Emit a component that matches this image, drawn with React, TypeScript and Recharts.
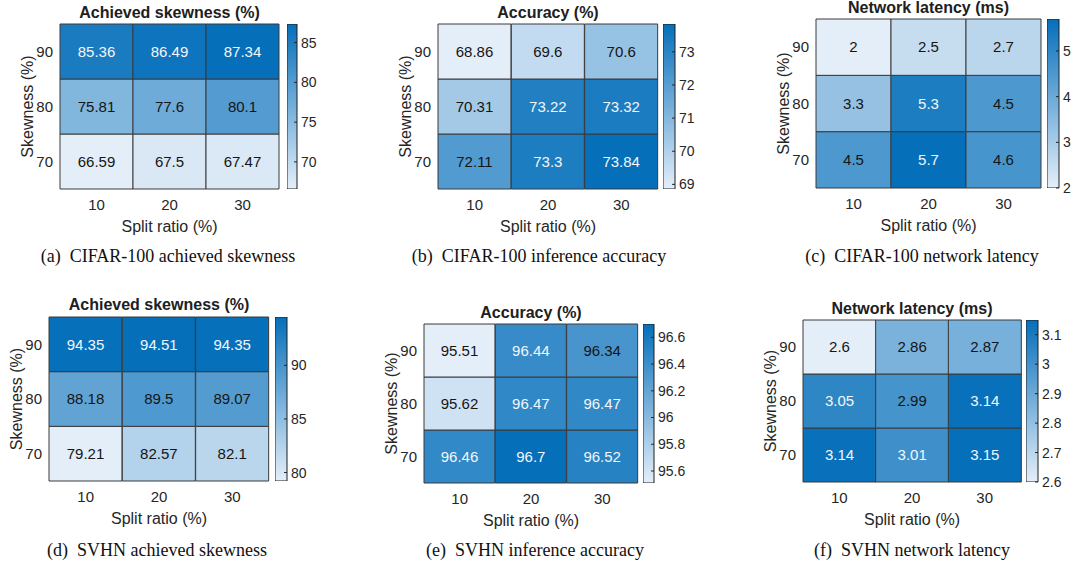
import React from 'react';
import { BarChart, Bar, XAxis, YAxis, Cell, LabelList } from 'recharts';

const splitRatios = ['10', '20', '30'];
const skewnessRows = [70, 80, 90];

// rows are skewness 70, 80, 90; columns are split ratio 10, 20, 30
const cifarSkewness = [
  [66.59, 67.5, 67.47],
  [75.81, 77.6, 80.1],
  [85.36, 86.49, 87.34],
];
const cifarAccuracy = [
  [72.11, 73.3, 73.84],
  [70.31, 73.22, 73.32],
  [68.86, 69.6, 70.6],
];
const cifarLatency = [
  [4.5, 5.7, 4.6],
  [3.3, 5.3, 4.5],
  [2, 2.5, 2.7],
];
const svhnSkewness = [
  [79.21, 82.57, 82.1],
  [88.18, 89.5, 89.07],
  [94.35, 94.51, 94.35],
];
const svhnAccuracy = [
  [96.46, 96.7, 96.52],
  [95.62, 96.47, 96.47],
  [95.51, 96.44, 96.34],
];
const svhnLatency = [
  [3.14, 3.01, 3.15],
  [3.05, 2.99, 3.14],
  [2.6, 2.86, 2.87],
];

const cifarSkewTicks = [70, 75, 80, 85];
const cifarAccTicks = [69, 70, 71, 72, 73];
const cifarLatTicks = [2, 3, 4, 5];
const svhnSkewTicks = [80, 85, 90];
const svhnAccTicks = [95.6, 95.8, 96, 96.2, 96.4, 96.6];
const svhnLatTicks = [2.6, 2.7, 2.8, 2.9, 3, 3.1];

const SANS = '"Liberation Sans", Arial, Helvetica, sans-serif';
const SERIF = '"Liberation Serif", "Times New Roman", serif';
const INK = '#262626';
const LIGHT = [228, 238, 249];
const DARK = [5, 111, 186];

const rgb = (c: number[]) => `rgb(${c.map(Math.round).join(',')})`;
const shade = (v: number, min: number, max: number) => {
  const t = max > min ? (v - min) / (max - min) : 0;
  return rgb(LIGHT.map((l, i) => l + (DARK[i] - l) * t));
};

type Panel = {
  title: string;
  caption: string;
  values: number[][];
  ticks: number[];
  grid: { x: number; y: number; w: number; h: number };
  bar: { x: number; w: number };
  titleY: number;
  capX: number;
  capY: number;
};

const panels: Panel[] = [
  {
    title: 'Achieved skewness (%)', caption: '(a)  CIFAR-100 achieved skewness',
    values: cifarSkewness, ticks: cifarSkewTicks,
    grid: { x: 60, y: 24, w: 219, h: 165 }, bar: { x: 287, w: 10 }, titleY: 13, capX: 168, capY: 256,
  },
  {
    title: 'Accuracy (%)', caption: '(b)  CIFAR-100 inference accuracy',
    values: cifarAccuracy, ticks: cifarAccTicks,
    grid: { x: 438, y: 24, w: 220, h: 165 }, bar: { x: 663, w: 12 }, titleY: 13, capX: 539, capY: 256,
  },
  {
    title: 'Network latency (ms)', caption: '(c)  CIFAR-100 network latency',
    values: cifarLatency, ticks: cifarLatTicks,
    grid: { x: 816, y: 19, w: 225, h: 169 }, bar: { x: 1047, w: 12 }, titleY: 8, capX: 922, capY: 256,
  },
  {
    title: 'Achieved skewness (%)', caption: '(d)  SVHN achieved skewness',
    values: svhnSkewness, ticks: svhnSkewTicks,
    grid: { x: 49, y: 317, w: 220, h: 164 }, bar: { x: 275, w: 12 }, titleY: 305, capX: 157, capY: 550,
  },
  {
    title: 'Accuracy (%)', caption: '(e)  SVHN inference accuracy',
    values: svhnAccuracy, ticks: svhnAccTicks,
    grid: { x: 424, y: 324, w: 214, h: 159 }, bar: { x: 643, w: 11 }, titleY: 313, capX: 535, capY: 550,
  },
  {
    title: 'Network latency (ms)', caption: '(f)  SVHN network latency',
    values: svhnLatency, ticks: svhnLatTicks,
    grid: { x: 803, y: 320, w: 218, h: 162 }, bar: { x: 1026, w: 12 }, titleY: 309, capX: 912, capY: 550,
  },
];

const yLabel = (props: any) => {
  const { x, y, width, height } = props.viewBox;
  const cx = x + width - 33;
  const cy = y + height / 2;
  return (
    <text x={cx} y={cy} dy="0.355em" textAnchor="middle" transform={`rotate(-90 ${cx} ${cy})`}
      fontSize={16} fontFamily={SANS} fill={INK}>
      Skewness (%)
    </text>
  );
};

const xLabel = (props: any) => {
  const { x, y, width } = props.viewBox;
  return (
    <text x={x + width / 2} y={y + 37} dy="0.355em" textAnchor="middle" fontSize={16} fontFamily={SANS} fill={INK}>
      Split ratio (%)
    </text>
  );
};

function Heatmap({ p }: { p: Panel }) {
  const flat = p.values.flat();
  const min = Math.min(...flat);
  const max = Math.max(...flat);
  const data = splitRatios.map((s, c) => {
    const row: any = { split: s };
    skewnessRows.forEach((r, i) => {
      row['r' + r] = 1;
      row['v' + r] = p.values[i][c];
    });
    return row;
  });

  const valueLabel = (props: any) => {
    const { x, y, width, height, value } = props;
    const t = (value - min) / (max - min);
    return (
      <text x={x + width / 2} y={y + height / 2} dy="0.355em" textAnchor="middle" fontSize={15}
        fontFamily={SANS} fill={t > 0.72 ? '#f4f6f8' : '#151515'}>
        {String(value)}
      </text>
    );
  };

  const ml = 60;
  const mt = 10;
  const xh = 50;
  return (
    <div style={{ position: 'absolute', left: p.grid.x - ml, top: p.grid.y - mt }}>
      <BarChart width={ml + p.grid.w + 2} height={mt + p.grid.h + xh} data={data}
        margin={{ top: mt, right: 2, bottom: 0, left: 0 }} barCategoryGap={0} barGap={0}>
        <XAxis dataKey="split" height={xh} tickLine={false} axisLine={false} tickSize={0} tickMargin={10}
          tick={{ fontSize: 15, fill: INK, fontFamily: SANS }} label={xLabel} />
        <YAxis type="number" width={ml} domain={[0, 3]} ticks={skewnessRows.map((_, i) => i + 0.5)}
          tickFormatter={(v: number) => String(skewnessRows[Math.floor(v)])}
          tickLine={false} axisLine={false} tickSize={0} tickMargin={7}
          tick={{ fontSize: 15, fill: INK, fontFamily: SANS }} label={yLabel} />
        {skewnessRows.map((r) => (
          <Bar key={r} dataKey={'r' + r} stackId="h" isAnimationActive={false} stroke="#3a3a3a" strokeWidth={1}>
            {data.map((d, c) => (
              <Cell key={c} fill={shade(d['v' + r], min, max)} />
            ))}
            <LabelList dataKey={'v' + r} content={valueLabel} />
          </Bar>
        ))}
      </BarChart>
    </div>
  );
}

function ColorBar({ p, id }: { p: Panel; id: string }) {
  const flat = p.values.flat();
  const min = Math.min(...flat);
  const max = Math.max(...flat);
  const data = [{ name: 'scale', range: [min, max] }];
  const rw = 50;

  const cbTick = (props: any) => {
    const { x, y, payload } = props;
    return (
      <g>
        <line x1={x - 3} y1={y} x2={x} y2={y} stroke={INK} strokeWidth={1} />
        <text x={x + 4} y={y} dy="0.355em" fontSize={14} fontFamily={SANS} fill={INK} textAnchor="start">
          {payload.value}
        </text>
      </g>
    );
  };

  return (
    <div style={{ position: 'absolute', left: p.bar.x, top: p.grid.y - 10 }}>
      <BarChart width={p.bar.w + rw} height={p.grid.h + 20} data={data}
        margin={{ top: 10, right: 0, bottom: 10, left: 0 }} barCategoryGap={0} barGap={0}>
        <defs>
          <linearGradient id={id} x1="0" y1="0" x2="0" y2="1">
            <stop offset="0" stopColor={rgb(DARK)} />
            <stop offset="1" stopColor={rgb(LIGHT)} />
          </linearGradient>
        </defs>
        <XAxis dataKey="name" hide />
        <YAxis orientation="right" type="number" domain={[min, max]} ticks={p.ticks} width={rw}
          allowDataOverflow axisLine={false} tickLine={false} tickSize={0} tickMargin={0} tick={cbTick} />
        <Bar dataKey="range" fill={`url(#${id})`} stroke="#1e1e1e" strokeWidth={1} isAnimationActive={false} />
      </BarChart>
    </div>
  );
}

export default function App() {
  return (
    <div style={{ position: 'absolute', left: 0, top: 0, width: 1075, height: 567, background: '#fff', overflow: 'hidden' }}>
      {panels.map((p, i) => (
        <React.Fragment key={i}>
          <div style={{
            position: 'absolute', left: p.grid.x + p.grid.w / 2 - 150, width: 300, top: p.titleY - 10,
            lineHeight: '20px', textAlign: 'center', fontFamily: SANS, fontWeight: 'bold', fontSize: 16, color: '#202020',
            whiteSpace: 'nowrap',
          }}>
            {p.title}
          </div>
          <Heatmap p={p} />
          <ColorBar p={p} id={'cbar' + i} />
          <div style={{
            position: 'absolute', left: p.capX - 200, width: 400, top: p.capY - 12, lineHeight: '24px',
            textAlign: 'center', fontFamily: SERIF, fontSize: 18, color: '#111', whiteSpace: 'pre',
          }}>
            {p.caption}
          </div>
        </React.Fragment>
      ))}
    </div>
  );
}
